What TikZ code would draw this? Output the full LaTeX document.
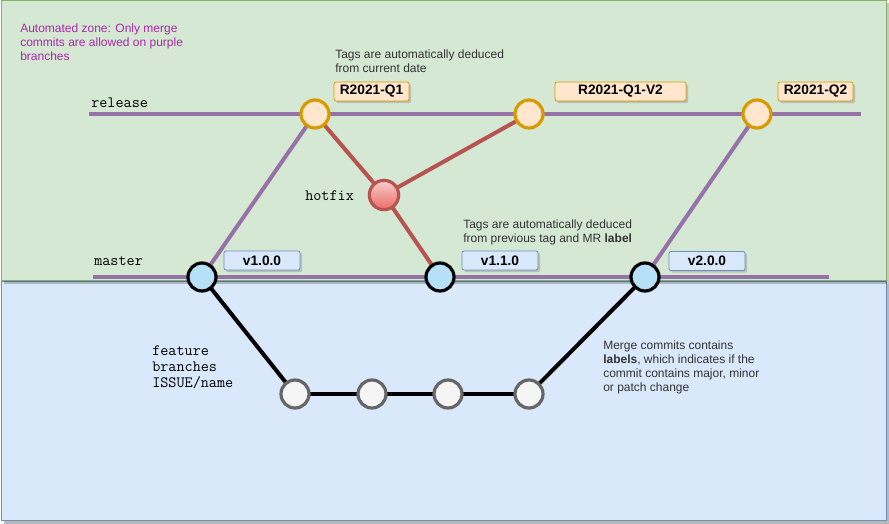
\documentclass[tikz,border=0pt]{standalone}
\usepackage{fontspec}
\setmainfont{Liberation Sans}
\usetikzlibrary{shadows}
\definecolor{zgreenfill}{HTML}{D5E8D4}
\definecolor{zgreenline}{HTML}{82B366}
\definecolor{zbluefill}{HTML}{DAE8FC}
\definecolor{zblueline}{HTML}{6C8EBF}
\definecolor{relfill}{HTML}{FFE6CC}
\definecolor{relline}{HTML}{D79B00}
\definecolor{purp}{HTML}{9673A6}
\definecolor{redline}{HTML}{B85450}
\definecolor{redtop}{HTML}{F8CECC}
\definecolor{redbot}{HTML}{EA6B66}
\definecolor{mastfill}{HTML}{B5E0F7}
\definecolor{featfill}{HTML}{F5F5F5}
\definecolor{featline}{HTML}{666666}
\definecolor{notetext}{HTML}{333333}
\definecolor{zonetext}{HTML}{A82AA8}
\pgfdeclarelayer{bg}
\pgfdeclarelayer{edges}
\pgfsetlayers{bg,edges,main}
\tikzset{
  commit/.style={circle, minimum size=21pt, inner sep=0pt, line width=2.4pt},
  relcommit/.style={commit, fill=relfill, draw=relline},
  mastcommit/.style={commit, fill=mastfill, draw=black},
  featcommit/.style={commit, fill=featfill, draw=featline},
  hotcommit/.style={commit, minimum size=22pt, top color=redtop, bottom color=redbot, draw=redline},
  tagbox/.style={rectangle, rounded corners=1.5pt, line width=0.6pt, minimum height=14.25pt,
     inner sep=0pt, font=\fontsize{10.3pt}{12pt}\selectfont\bfseries,
     drop shadow={shadow xshift=1.6pt, shadow yshift=-1.6pt, fill=black!35, opacity=0.6}},
  reltag/.style={tagbox, fill=relfill, draw=relline},
  vertag/.style={tagbox, fill=zbluefill, draw=zblueline},
  branchname/.style={inner sep=0pt, font=\fontsize{11.8pt}{12pt}\ttfamily},
  note/.style={inner sep=0pt, align=left, text=notetext, font=\fontsize{9pt}{10.5pt}\selectfont},
  purpline/.style={draw=purp, line width=3pt},
  rededge/.style={draw=redline, line width=3pt},
  blackedge/.style={draw=black, line width=3pt},
}
\begin{document}
\begin{tikzpicture}[x=0.75pt,y=-0.75pt]
\useasboundingbox (0,0) rectangle (889,524);
% zones
\begin{pgfonlayer}{bg}
  \fill[black!28] (3.5,284) rectangle (889,524);
  \node[draw=zblueline, fill=zbluefill, line width=0.75pt, inner sep=0pt, anchor=north west,
        minimum width=885.5*0.75pt, minimum height=239*0.75pt] (bluezone) at (0.5,281) {};
  \fill[black, opacity=0.22] (3.5,3.5) rectangle (889,283.5);
  \node[draw=zgreenline, fill=zgreenfill, line width=0.75pt, inner sep=0pt, anchor=north west,
        minimum width=885.5*0.75pt, minimum height=279.5*0.75pt] (greenzone) at (0.5,0.5) {};
\end{pgfonlayer}

% commits
\node[relcommit] (r1) at (315,114) {};
\node[relcommit] (r2) at (529,114) {};
\node[relcommit] (r3) at (757,114) {};
\node[hotcommit] (hf) at (384,195) {};
\node[mastcommit] (m1) at (202,277) {};
\node[mastcommit] (m2) at (440,277) {};
\node[mastcommit] (m3) at (645,277) {};
\node[featcommit] (f1) at (295,394) {};
\node[featcommit] (f2) at (372,394) {};
\node[featcommit] (f3) at (448,394) {};
\node[featcommit] (f4) at (529,394) {};

% branch lines
\coordinate (relstart) at (89,114);
\coordinate (relend) at (861,114);
\coordinate (maststart) at (93,277);
\coordinate (mastend) at (829,277);

\begin{pgfonlayer}{edges}
  \draw[purpline] (relstart) -- (relend);
  \draw[purpline] (maststart) -- (mastend);
  \draw[purpline] (m1.center) -- (r1.center);
  \draw[purpline] (m3.center) -- (r3.center);
  \draw[rededge] (r1.center) -- (hf.center);
  \draw[rededge] (hf.center) -- (r2.center);
  \draw[rededge] (hf.center) -- (m2.center);
  \draw[blackedge] (m1.center) -- (f1.center);
  \draw[blackedge] (f1.center) -- (f2.center);
  \draw[blackedge] (f2.center) -- (f3.center);
  \draw[blackedge] (f3.center) -- (f4.center);
  \draw[blackedge] (f4.center) -- (m3.center);
\end{pgfonlayer}

% tags
\node[reltag, minimum width=75*0.75pt] (t1) at (371.5,91.5) {R2021-Q1};
\node[reltag, minimum width=131*0.75pt] (t2) at (620.5,91.5) {R2021-Q1-V2};
\node[reltag, minimum width=75*0.75pt] (t3) at (815.5,91.5) {R2021-Q2};
\node[vertag, minimum width=76*0.75pt] (v1) at (262,260.5) {v1.0.0};
\node[vertag, minimum width=76*0.75pt] (v2) at (500,260.5) {v1.1.0};
\node[vertag, minimum width=76*0.75pt] (v3) at (707,261) {v2.0.0};

% branch names
\node[branchname, anchor=west] (lrel) at (91,103) {release};
\node[branchname, anchor=west] (lmast) at (94,261) {master};
\node[branchname, anchor=west] (lhot) at (305,196) {hotfix};
\node[branchname, anchor=north west, align=left, font=\fontsize{11.8pt}{12pt}\ttfamily] (lfeat) at (152,345.5)
  {feature\\branches\\ISSUE/name};

% notes
\node[note, anchor=north west, text=zonetext] (nzone) at (20,23.5)
  {Automated zone: Only merge\\commits are allowed on purple\\branches};
\node[note, anchor=north west] (ndate) at (335,49.5)
  {Tags are automatically deduced\\from current date};
\node[note, anchor=north west] (nprev) at (463,219.5)
  {Tags are automatically deduced\\from previous tag and MR \textbf{label}};
\node[note, anchor=north west] (nmerge) at (603,340.5)
  {Merge commits contains\\\textbf{labels}, which indicates if the\\commit contains major, minor\\or patch change};
\end{tikzpicture}
\end{document}
